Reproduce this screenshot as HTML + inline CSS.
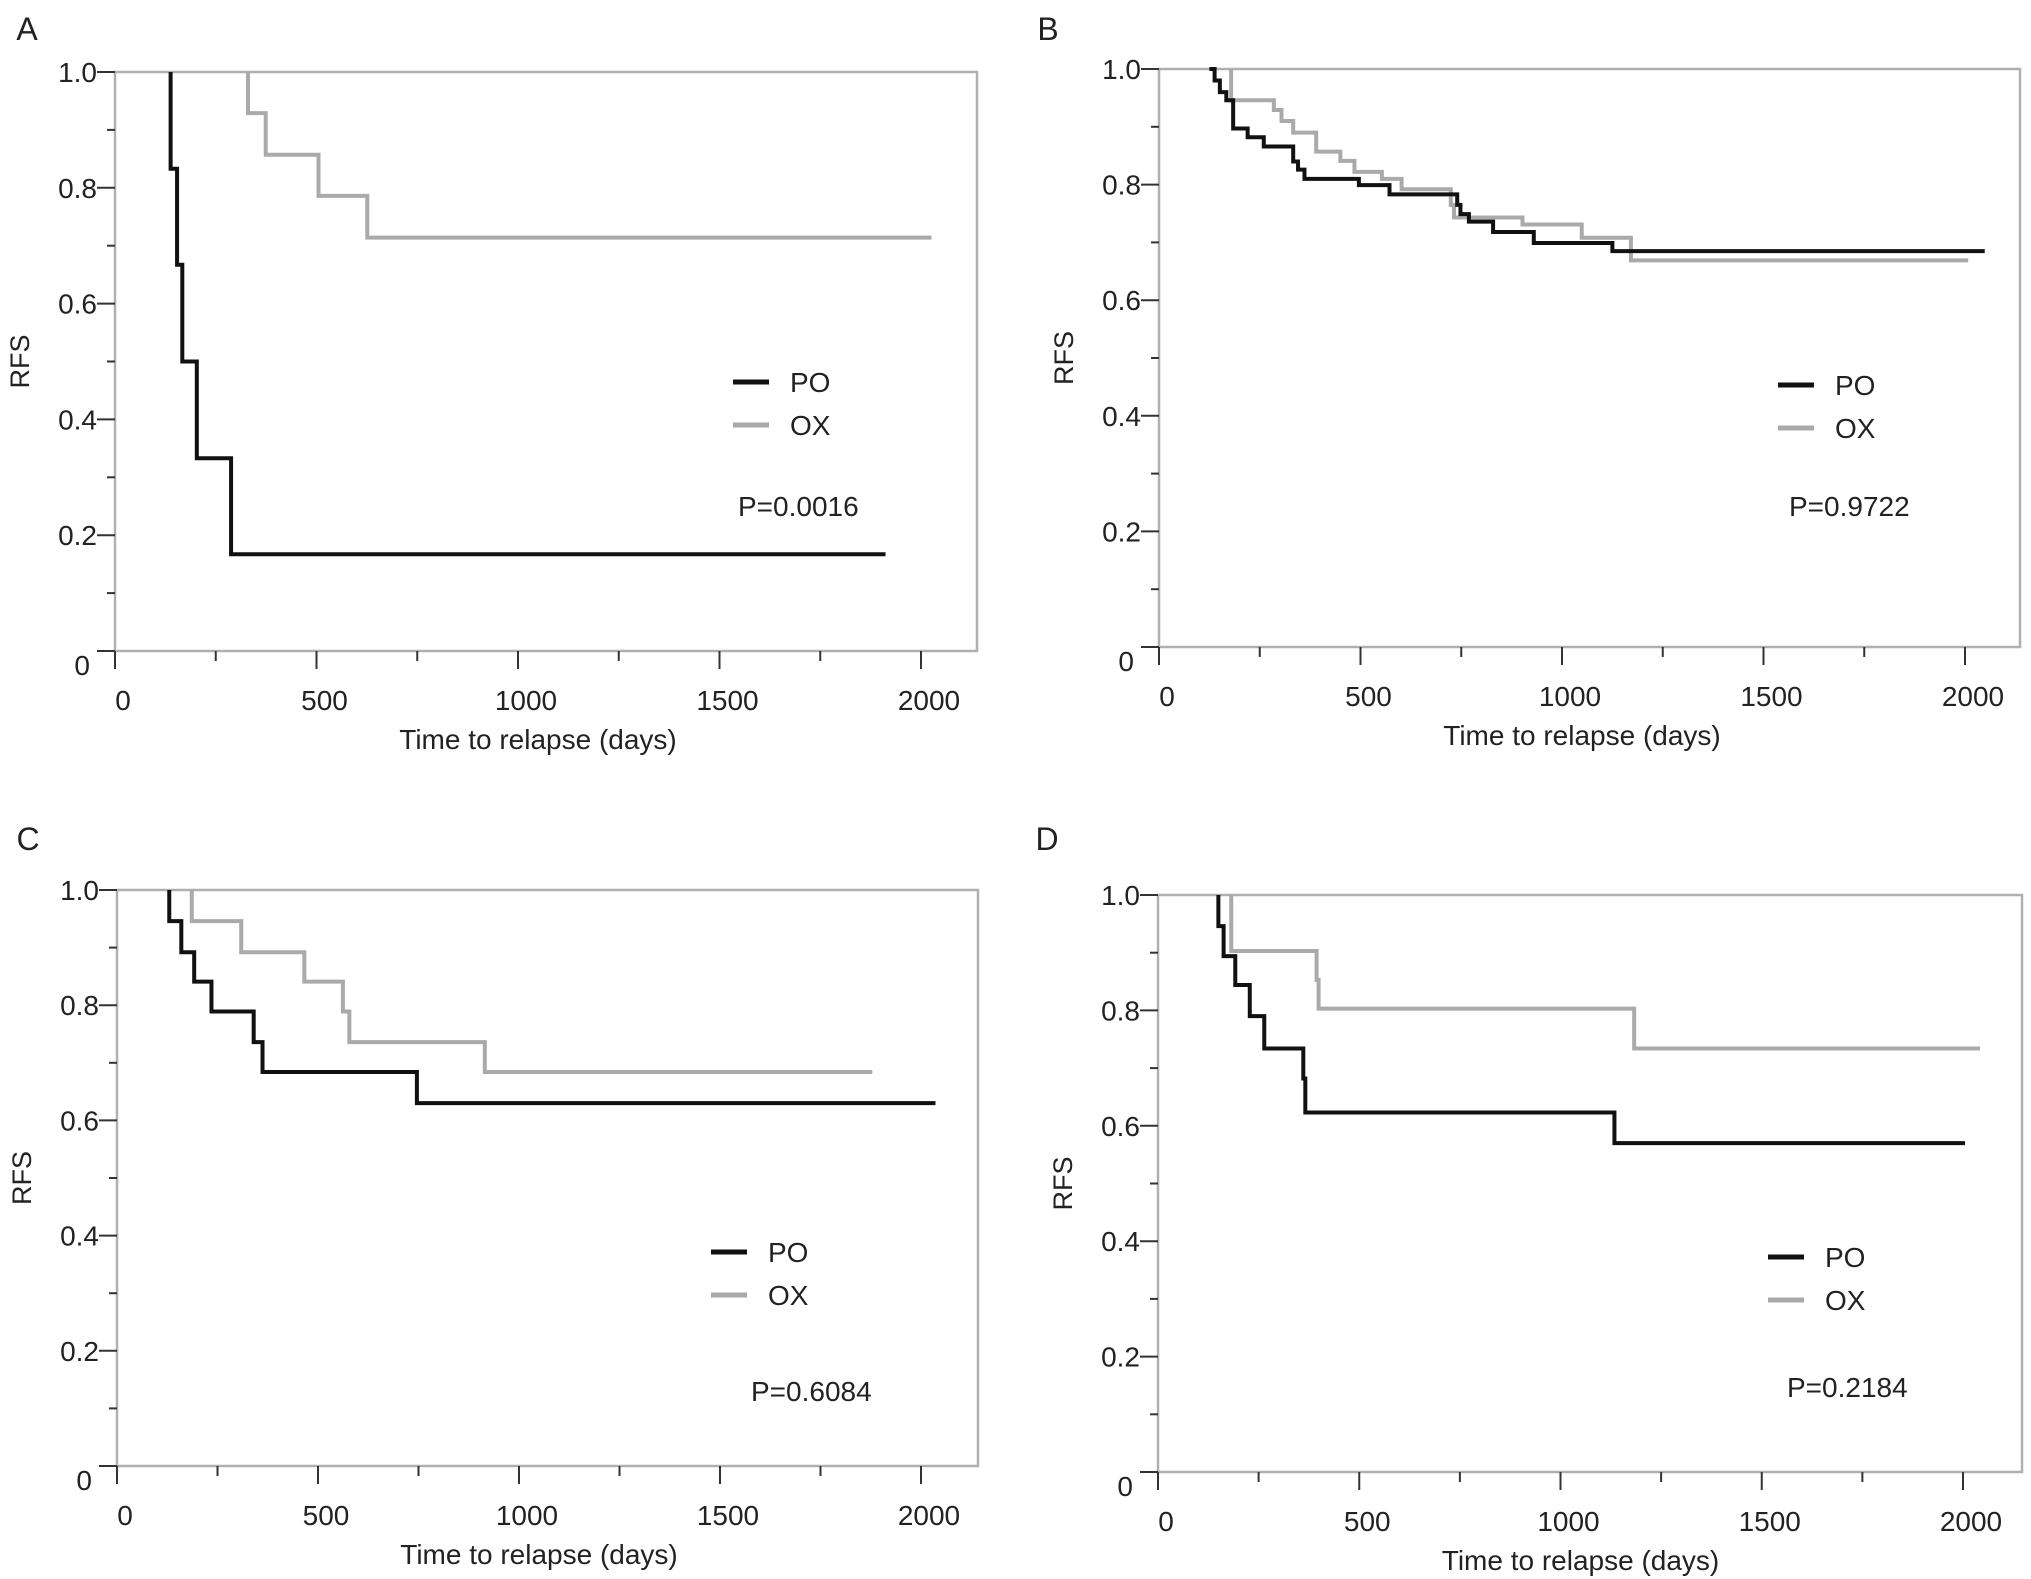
<!DOCTYPE html>
<html><head><meta charset="utf-8"><style>
body{margin:0;background:#fff}
svg{display:block;font-family:"Liberation Sans",sans-serif}
</style></head><body>
<svg id="fig" width="2031" height="1579" viewBox="0 0 2031 1579"></svg>
<script>
// Panel A
const aPoT=[0,138,154,167,203,288], aPoS=[1,0.833,0.667,0.5,0.333,0.167], aPoEnd=1912;
const aOxT=[0,330,374,505,626], aOxS=[1,0.929,0.857,0.786,0.714], aOxEnd=2026;
// Panel B
const bPoT=[0,125,138,151,167,184,220,260,333,345,361,496,572,740,748,769,829,930,1125];
const bPoS=[1,1,0.98,0.96,0.946,0.897,0.882,0.866,0.84,0.826,0.81,0.799,0.783,0.765,0.749,0.736,0.718,0.699,0.685];
const bPoEnd=2049;
const bOxT=[0,179,285,304,333,390,450,485,553,602,724,732,902,1049,1171];
const bOxS=[1,0.946,0.929,0.91,0.89,0.857,0.841,0.822,0.81,0.792,0.765,0.743,0.731,0.708,0.669];
const bOxEnd=2008;
// Panel C
const cPoT=[0,130,160,192,235,340,362,746], cPoS=[1,0.946,0.892,0.841,0.789,0.736,0.684,0.63], cPoEnd=2036;
const cOxT=[0,186,309,466,562,578,915], cOxS=[1,0.946,0.892,0.841,0.789,0.736,0.684], cOxEnd=1879;
// Panel D
const dPoT=[0,150,163,192,228,264,361,366,1134], dPoS=[1,0.946,0.894,0.844,0.79,0.734,0.682,0.623,0.57], dPoEnd=2005;
const dOxT=[0,182,394,399,1183], dOxS=[1,0.903,0.853,0.803,0.734], dOxEnd=2042;
const xTicks=[0,500,1000,1500,2000];
const yTicks=[0.2,0.4,0.6,0.8,1.0];
const pvals=["P=0.0016","P=0.9722","P=0.6084","P=0.2184"];
const letters=["A","B","C","D"];

const panels=[
 {x0:115,x2:921,yt:72,yb:651,xr:977,po:[aPoT,aPoS,aPoEnd],ox:[aOxT,aOxS,aOxEnd],lg:[733,382],p:[738,506],L:[27,28]},
 {x0:1159,x2:1965,yt:69,yb:647,xr:2020,po:[bPoT,bPoS,bPoEnd],ox:[bOxT,bOxS,bOxEnd],lg:[1778,385],p:[1789,506],L:[1048,28]},
 {x0:117,x2:921,yt:890,yb:1466,xr:978,po:[cPoT,cPoS,cPoEnd],ox:[cOxT,cOxS,cOxEnd],lg:[711,1252],p:[751,1391],L:[28,838]},
 {x0:1158,x2:1963,yt:895,yb:1472,xr:2022,po:[dPoT,dPoS,dPoEnd],ox:[dOxT,dOxS,dOxEnd],lg:[1768,1257],p:[1787,1387],L:[1047,838]}
];
const NS="http://www.w3.org/2000/svg";
const svg=document.getElementById('fig');
function mk(tag,attrs,parent,text){const e=document.createElementNS(NS,tag);for(const k in attrs)e.setAttribute(k,attrs[k]);if(text!==undefined)e.textContent=text;parent.appendChild(e);return e;}
panels.forEach((P,i)=>{
 const g=mk('g',{},svg);
 
 
 const X=d=>P.x0+(P.x2-P.x0)*d/2000;
 const Y=v=>P.yb-(P.yb-P.yt)*v;
 const lt=mk('text',{x:P.L[0],y:P.L[1]+12,'font-size':32,'text-anchor':'middle',fill:'#222'},g,letters[i]);
 
 
 const fr=mk('rect',{x:P.x0,y:P.yt,width:P.xr-P.x0,height:P.yb-P.yt,fill:'none',stroke:'#b0b0b0','stroke-width':2.5},g);
 
 
 for(let k=0;k<=10;k++){const v=k/10;const y=Y(v);const major=k%2===0;
  mk('line',{x1:P.x0-(major?18:8),x2:P.x0,y1:y,y2:y,stroke:'#333','stroke-width':2},g);}
 yTicks.forEach(v=>{const t=mk('text',{x:P.x0-18,y:Y(v)+10,'font-size':28,'text-anchor':'end',fill:'#222'},g,v.toFixed(1));
  
  });
 const z=mk('text',{x:P.x0-25,y:P.yb+24,'font-size':28,'text-anchor':'end',fill:'#222'},g,'0');
 
 
 for(let k=0;k<=8;k++){const x=X(k*250);const major=k%2===0;
  mk('line',{x1:x,x2:x,y1:P.yb,y2:P.yb+(major?18:10),stroke:'#333','stroke-width':2},g);}
 xTicks.forEach(d=>{const t=mk('text',{x:X(d)+8,y:P.yb+59,'font-size':28,'text-anchor':'middle',fill:'#222'},g,String(d));
  
  });
 const xt=mk('text',{x:(P.x0+P.x2)/2+20,y:P.yb+98,'font-size':28,'text-anchor':'middle',fill:'#222'},g,'Time to relapse (days)');
 
 
 const yc=(P.yt+P.yb)/2;
 const yt=mk('text',{x:0,y:0,'font-size':27,'text-anchor':'middle',fill:'#222',transform:`translate(${P.x0-86} ${yc}) rotate(-90)`},g,'RFS');
 
 
 [['ox','#aaaaaa'],['po','#111']].forEach(([key,col])=>{
  const [T,S,E]=P[key];let d=`M${X(T[1])},${Y(S[0])}`;
  for(let j=1;j<T.length;j++){d+=` H${X(T[j])} V${Y(S[j])}`;}
  d+=` H${X(E)}`;
  const p=mk('path',{d:d,fill:'none',stroke:col,'stroke-width':4},g);
  
  
 });
 const [lx,ly]=P.lg;
 [['PO','#111',0],['OX','#aaaaaa',43]].forEach(([n,c,dy])=>{
  const e=mk('g',{},g);
  
  
  mk('line',{x1:lx,x2:lx+36,y1:ly+dy,y2:ly+dy,stroke:c,'stroke-width':5},e);
  mk('text',{x:lx+57,y:ly+dy+10,'font-size':28,fill:'#222'},e,n);
 });
 const pt=mk('text',{x:P.p[0],y:P.p[1]+10,'font-size':28,fill:'#222'},g,pvals[i]);
 
 
});
</script>
</body></html>
